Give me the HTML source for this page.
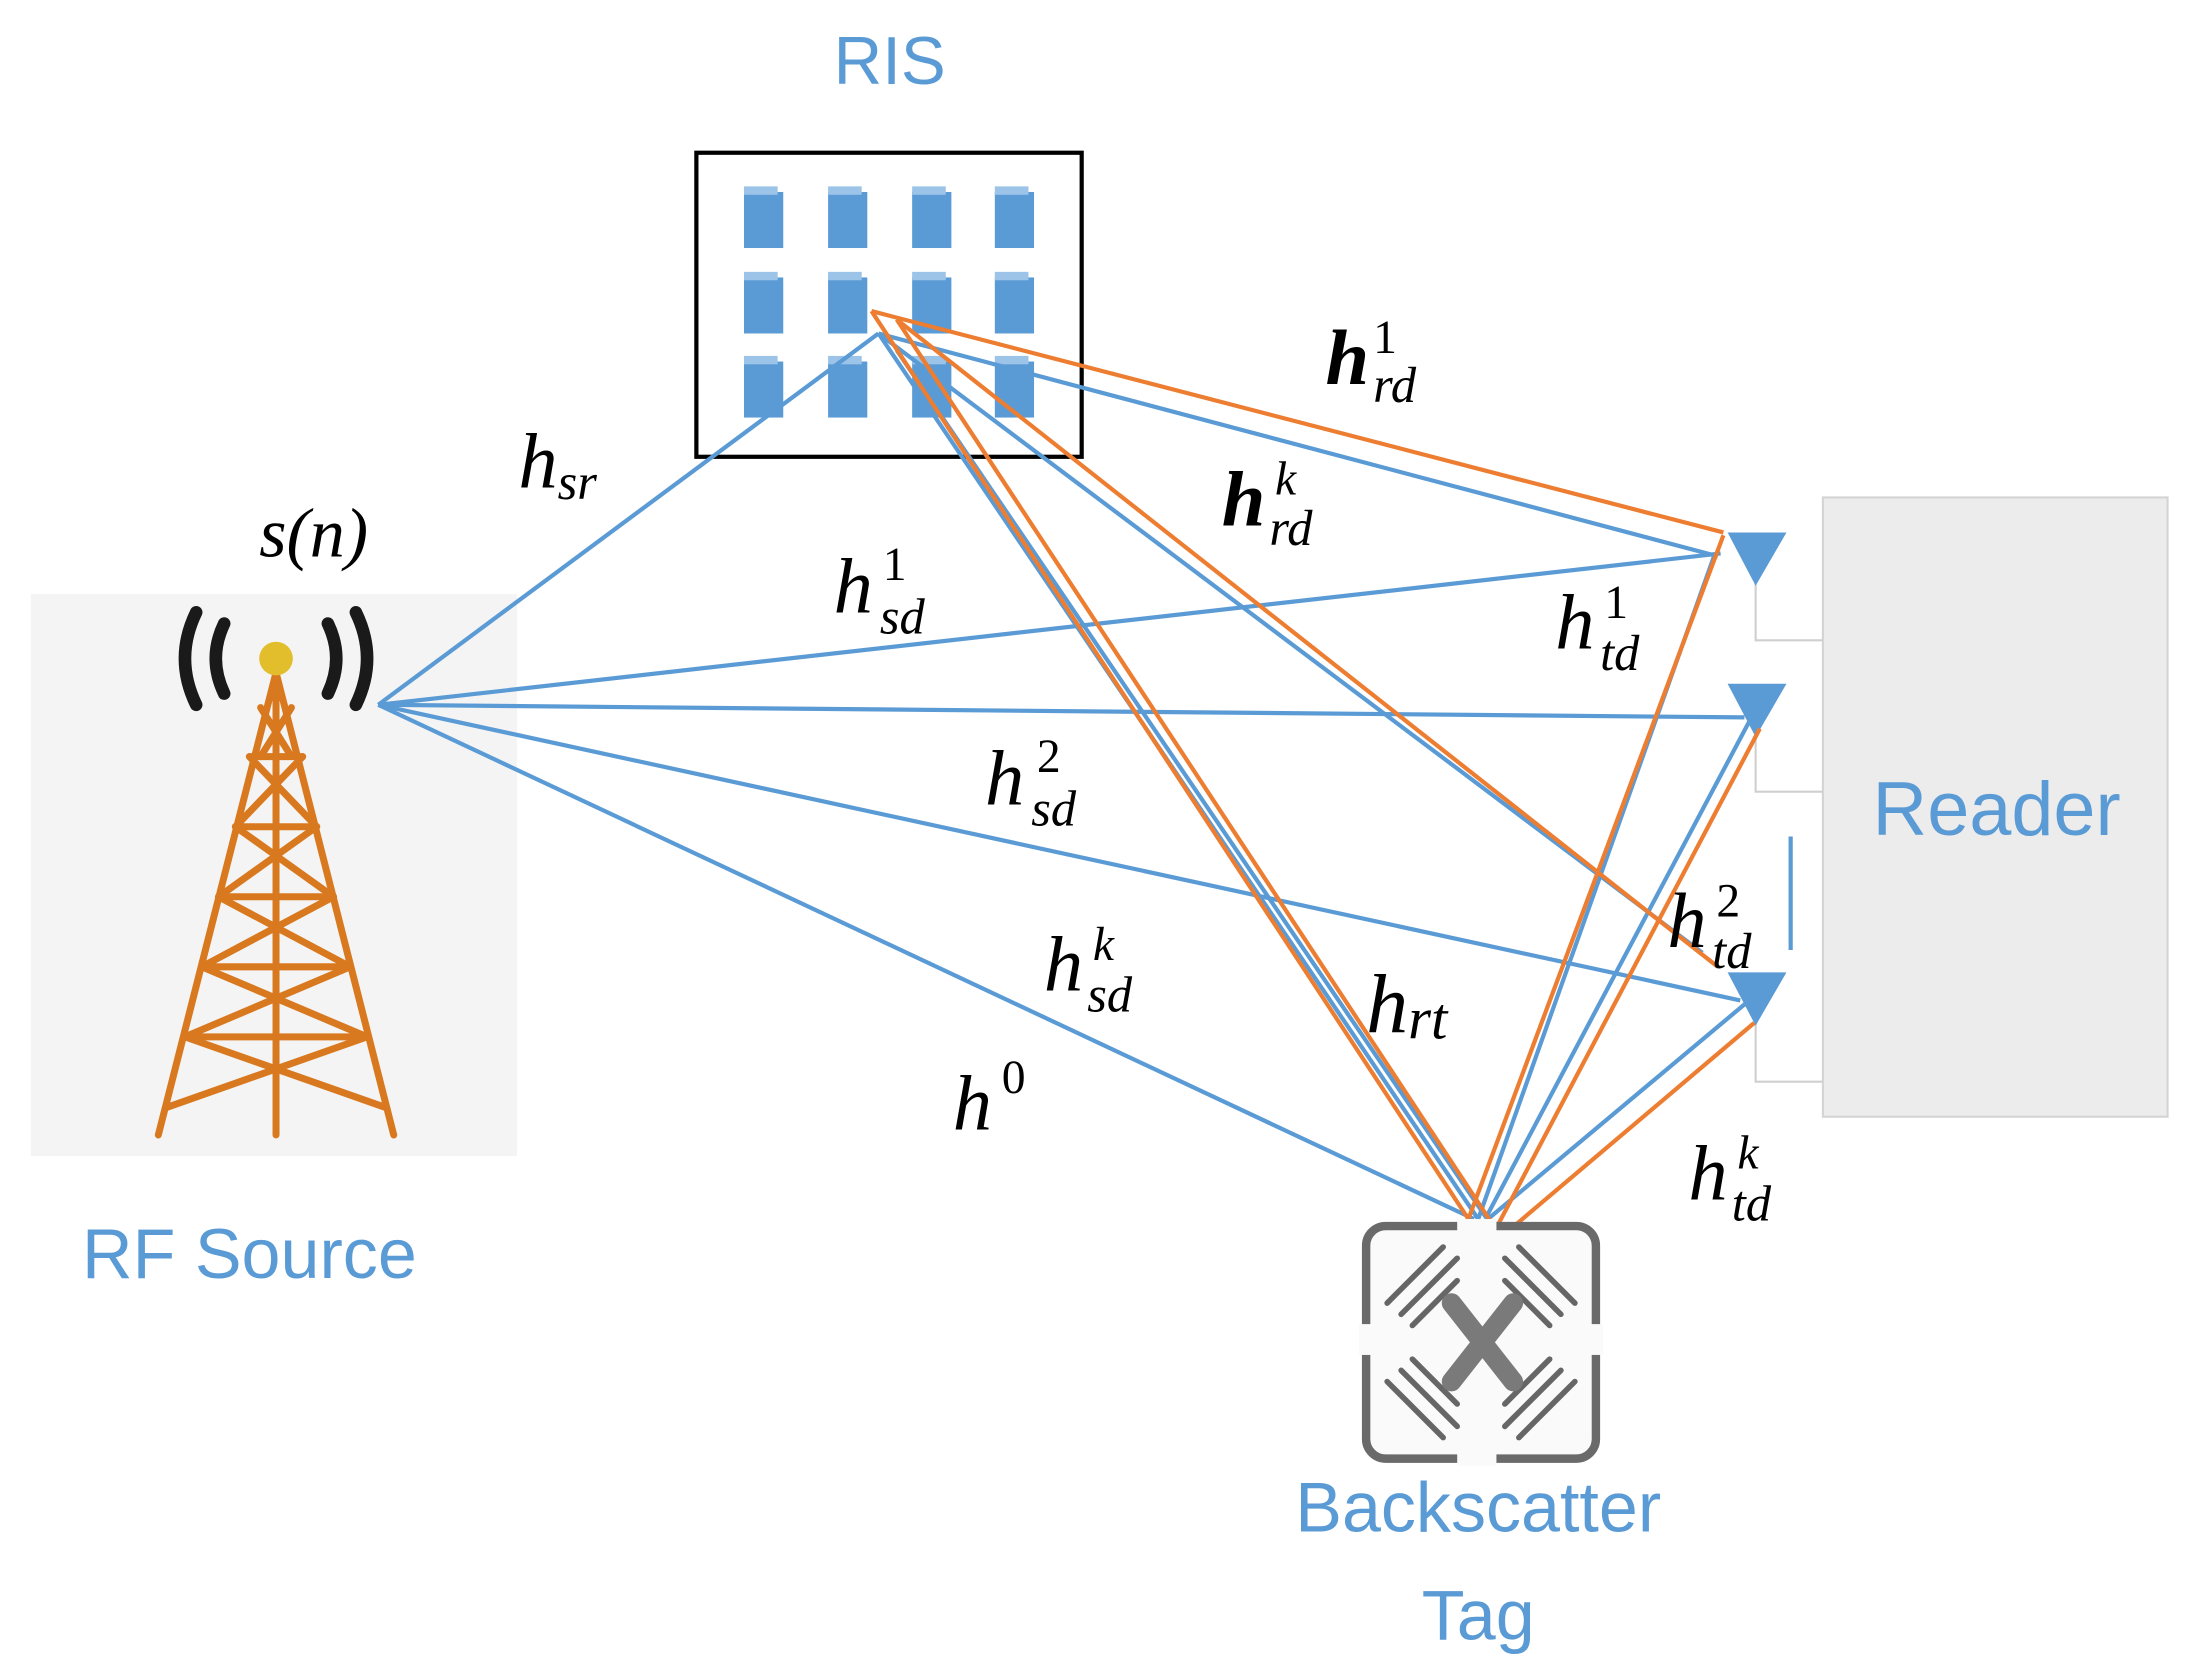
<!DOCTYPE html>
<html><head><meta charset="utf-8"><style>html,body{margin:0;padding:0;background:#fff}svg{display:block}</style></head>
<body>
<svg width="2197" height="1666" viewBox="0 0 1568 1189" xmlns="http://www.w3.org/2000/svg">
<rect width="1568" height="1189" fill="#fff"/>
<rect x="22" y="424" width="347" height="401" fill="#f4f4f4"/>
<g stroke="#D9791F" stroke-width="5" fill="none" stroke-linecap="round">
<line x1="197" y1="480" x2="113" y2="810"/>
<line x1="197" y1="480" x2="281" y2="810"/>
<line x1="197" y1="480" x2="197" y2="810"/>
<line x1="178" y1="540" x2="216" y2="540"/>
<line x1="168" y1="590" x2="226" y2="590"/>
<line x1="156" y1="640" x2="238" y2="640"/>
<line x1="144" y1="690" x2="250" y2="690"/>
<line x1="132" y1="740" x2="262" y2="740"/>
<line x1="178" y1="540" x2="226" y2="590"/><line x1="216" y1="540" x2="168" y2="590"/>
<line x1="168" y1="590" x2="238" y2="640"/><line x1="226" y1="590" x2="156" y2="640"/>
<line x1="156" y1="640" x2="250" y2="690"/><line x1="238" y1="640" x2="144" y2="690"/>
<line x1="144" y1="690" x2="262" y2="740"/><line x1="250" y1="690" x2="132" y2="740"/>
<line x1="132" y1="740" x2="274" y2="790"/><line x1="262" y1="740" x2="120" y2="790"/>
<line x1="186" y1="505" x2="208" y2="540"/><line x1="208" y1="505" x2="186" y2="540"/>
</g>
<circle cx="197" cy="470" r="12" fill="#E3BE2C"/>
<g stroke="#1a1a1a" stroke-width="9" fill="none" stroke-linecap="round">
<path d="M160 445 Q148 470 160 495"/><path d="M140 437 Q124 470 140 503"/>
<path d="M234 445 Q246 470 234 495"/><path d="M254 437 Q270 470 254 503"/>
</g>
<text x="178" y="912" font-family="Liberation Sans, sans-serif" font-size="50" fill="#5B9BD5" text-anchor="middle">RF Source</text>
<text x="635" y="60" font-family="Liberation Sans, sans-serif" font-size="48" fill="#5B9BD5" text-anchor="middle">RIS</text>
<rect x="497" y="109" width="275" height="217" fill="#fff" stroke="#000" stroke-width="3"/>
<g fill="#5B9BD5">
<rect x="531" y="137" width="28" height="40"/><rect x="591" y="137" width="28" height="40"/><rect x="651" y="137" width="28" height="40"/><rect x="710" y="137" width="28" height="40"/>
<rect x="531" y="198" width="28" height="40"/><rect x="591" y="198" width="28" height="40"/><rect x="651" y="198" width="28" height="40"/><rect x="710" y="198" width="28" height="40"/>
<rect x="531" y="258" width="28" height="40"/><rect x="591" y="258" width="28" height="40"/><rect x="651" y="258" width="28" height="40"/><rect x="710" y="258" width="28" height="40"/>
</g>
<g fill="#9cc3e8">
<rect x="531" y="133" width="24" height="6"/><rect x="591" y="133" width="24" height="6"/><rect x="651" y="133" width="24" height="6"/><rect x="710" y="133" width="24" height="6"/>
<rect x="531" y="194" width="24" height="6"/><rect x="591" y="194" width="24" height="6"/><rect x="651" y="194" width="24" height="6"/><rect x="710" y="194" width="24" height="6"/>
<rect x="531" y="254" width="24" height="6"/><rect x="591" y="254" width="24" height="6"/><rect x="651" y="254" width="24" height="6"/><rect x="710" y="254" width="24" height="6"/>
</g>
<rect x="1301" y="355" width="246" height="442" fill="#ececec" stroke="#d4d4d4" stroke-width="1.5"/>
<text x="1425" y="596" font-family="Liberation Sans, sans-serif" font-size="54" fill="#5B9BD5" text-anchor="middle">Reader</text>
<g stroke="#cfcfcf" stroke-width="1.5" fill="none">
<polyline points="1253,410 1253,457 1301,457"/>
<polyline points="1253,518 1253,565 1301,565"/>
<polyline points="1253,725 1253,772 1301,772"/>
</g>
<g fill="#5B9BD5">
<polygon points="1233,380 1275,380 1253,418"/>
<polygon points="1233,488 1275,488 1253,526"/>
<polygon points="1233,694 1275,694 1253,732"/>
</g>
<line x1="1278" y1="597" x2="1278" y2="678" stroke="#5B9BD5" stroke-width="3"/>
<g stroke="#5B9BD5" stroke-width="3" fill="none">
<line x1="270" y1="503" x2="627" y2="238"/>
<line x1="270" y1="503" x2="1228" y2="395"/>
<line x1="270" y1="503" x2="1245" y2="512"/>
<line x1="270" y1="503" x2="1242" y2="714"/>
<line x1="270" y1="503" x2="1052" y2="870"/>
<line x1="627" y1="238" x2="1226" y2="397"/>
<line x1="627" y1="238" x2="1055" y2="870"/>
<line x1="627" y1="238" x2="1215" y2="680"/>
<line x1="640" y1="250" x2="1060" y2="868"/>
<line x1="1055" y1="870" x2="1224" y2="395"/>
<line x1="1060" y1="870" x2="1250" y2="512"/>
<line x1="1062" y1="870" x2="1246" y2="716"/>
</g>
<g stroke="#ED7D31" stroke-width="3" fill="none">
<line x1="622" y1="222" x2="1230" y2="380"/>
<line x1="622" y1="222" x2="1048" y2="870"/>
<line x1="640" y1="228" x2="1068" y2="878"/>
<line x1="640" y1="228" x2="1226" y2="690"/>
<line x1="1048" y1="870" x2="1230" y2="382"/>
<line x1="1066" y1="880" x2="1256" y2="520"/>
<line x1="1070" y1="884" x2="1252" y2="730"/>
</g>
<g>
<rect x="975" y="875" width="164" height="166" rx="14" fill="#fafafa" stroke="#6a6a6a" stroke-width="6"/>
<rect x="1040" y="870" width="28" height="176" fill="#fafafa"/>
<rect x="970" y="945" width="174" height="22" fill="#fafafa"/>
<g stroke="#666" stroke-width="4" fill="none" stroke-linecap="round">
<line x1="990" y1="930" x2="1030" y2="890"/><line x1="1000" y1="938" x2="1040" y2="898"/><line x1="1008" y1="946" x2="1040" y2="914"/>
<line x1="1124" y1="930" x2="1084" y2="890"/><line x1="1114" y1="938" x2="1074" y2="898"/><line x1="1106" y1="946" x2="1074" y2="914"/>
<line x1="990" y1="986" x2="1030" y2="1026"/><line x1="1000" y1="978" x2="1040" y2="1018"/><line x1="1008" y1="970" x2="1040" y2="1002"/>
<line x1="1124" y1="986" x2="1084" y2="1026"/><line x1="1114" y1="978" x2="1074" y2="1018"/><line x1="1106" y1="970" x2="1074" y2="1002"/>
</g>
<g stroke="#7a7a7a" stroke-width="14" stroke-linecap="round">
<line x1="1036" y1="930" x2="1080" y2="986"/><line x1="1080" y1="930" x2="1036" y2="986"/>
</g>
</g>
<text x="1055" y="1093" font-family="Liberation Sans, sans-serif" font-size="50" fill="#5B9BD5" text-anchor="middle">Backscatter</text>
<text x="1055" y="1170" font-family="Liberation Sans, sans-serif" font-size="50" fill="#5B9BD5" text-anchor="middle">Tag</text>
<g font-family="Liberation Serif, serif" font-style="italic" fill="#000">
<text x="185" y="397" font-size="50">s(n)</text>
<text x="370" y="348" font-size="56">h<tspan font-size="36" dy="8">sr</tspan></text>
<text x="946" y="274" font-size="56" font-weight="bold">h</text><text x="980" y="252" font-size="34" font-style="normal">1</text><text x="980" y="287" font-size="36">rd</text>
<text x="872" y="375" font-size="56" font-weight="bold">h</text><text x="910" y="353" font-size="34">k</text><text x="906" y="389" font-size="36">rd</text>
<text x="595" y="437" font-size="56">h</text><text x="630" y="414" font-size="34" font-style="normal">1</text><text x="628" y="452" font-size="36">sd</text>
<text x="1110" y="463" font-size="56">h</text><text x="1145" y="441" font-size="34" font-style="normal">1</text><text x="1142" y="478" font-size="36">td</text>
<text x="703" y="574" font-size="56">h</text><text x="740" y="551" font-size="34" font-style="normal">2</text><text x="736" y="589" font-size="36">sd</text>
<text x="1190" y="676" font-size="56">h</text><text x="1225" y="654" font-size="34" font-style="normal">2</text><text x="1222" y="691" font-size="36">td</text>
<text x="745" y="707" font-size="56">h</text><text x="780" y="685" font-size="34">k</text><text x="776" y="722" font-size="36">sd</text>
<text x="975" y="737" font-size="60">h<tspan font-size="42" dy="4">rt</tspan></text>
<text x="680" y="806" font-size="56">h</text><text x="715" y="780" font-size="34" font-style="normal">0</text>
<text x="1205" y="856" font-size="56">h</text><text x="1240" y="834" font-size="34">k</text><text x="1236" y="871" font-size="36">td</text>
</g>
</svg>
</body></html>
